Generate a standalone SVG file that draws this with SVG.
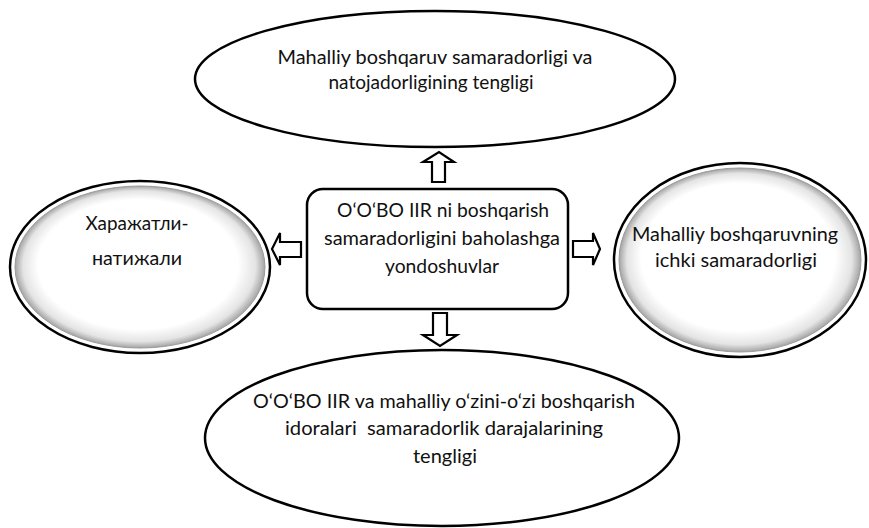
<svg xmlns="http://www.w3.org/2000/svg" width="869" height="528" viewBox="0 0 869 528">
<defs>
<radialGradient id="bevel" cx="0.5" cy="0.5" r="0.5" fx="0.46" fy="0.42">
<stop offset="0" stop-color="#ffffff"/>
<stop offset="0.8" stop-color="#ffffff"/>
<stop offset="0.93" stop-color="#e4e4e4"/>
<stop offset="1" stop-color="#a4a4a4"/>
</radialGradient>
<style>
.plain{fill:#fff;stroke:#000;stroke-width:2.5}
.outer{fill:#fff;stroke:#000;stroke-width:2.5}
.inner{fill:url(#bevel);stroke:#9a9a9a;stroke-width:1}
.box{fill:#fff;stroke:#000;stroke-width:2.5}
.arrow{fill:#fff;stroke:#000;stroke-width:2.2;stroke-linejoin:miter}
text{font-family:Lato,"Liberation Sans",Arial,sans-serif;font-size:19.5px;fill:#111;text-anchor:middle}
</style>
</defs>
<rect width="869" height="528" fill="#fff"/>

<g id="node-top">
<ellipse class="plain" cx="435" cy="79" rx="240" ry="68"/>
<text x="435" y="64" textLength="315" lengthAdjust="spacingAndGlyphs">Mahalliy boshqaruv samaradorligi va</text>
<text x="431" y="89" textLength="205" lengthAdjust="spacingAndGlyphs">natojadorligining tengligi</text>
</g>

<g id="node-left">
<ellipse class="outer" cx="140" cy="267" rx="130" ry="86"/>
<ellipse class="inner" cx="140" cy="267" rx="125" ry="81"/>
<text x="137" y="230" textLength="103" lengthAdjust="spacingAndGlyphs">Харажатли-</text>
<text x="137" y="265" textLength="90" lengthAdjust="spacingAndGlyphs">натижали</text>
</g>

<g id="node-center">
<rect class="box" x="307" y="189" width="261" height="120" rx="16" ry="16"/>
<text x="443" y="216.5" textLength="212" lengthAdjust="spacingAndGlyphs">O‘O‘BO IIR ni boshqarish</text>
<text x="442" y="245" textLength="236" lengthAdjust="spacingAndGlyphs">samaradorligini baholashga</text>
<text x="442" y="273" textLength="114" lengthAdjust="spacingAndGlyphs">yondoshuvlar</text>
</g>

<g id="node-right">
<ellipse class="outer" cx="740" cy="260" rx="126" ry="97"/>
<ellipse class="inner" cx="740" cy="260" rx="121" ry="92"/>
<text x="735" y="241" textLength="206" lengthAdjust="spacingAndGlyphs">Mahalliy boshqaruvning</text>
<text x="736" y="267" textLength="162" lengthAdjust="spacingAndGlyphs">ichki samaradorligi</text>
</g>

<g id="node-bottom">
<ellipse class="plain" cx="442" cy="438" rx="237" ry="88"/>
<text x="444" y="408" textLength="382" lengthAdjust="spacingAndGlyphs">O‘O‘BO IIR va mahalliy o‘zini-o‘zi boshqarish</text>
<text x="444" y="435" textLength="318" lengthAdjust="spacingAndGlyphs">idoralari&#160; samaradorlik darajalarining</text>
<text x="445" y="463" textLength="64" lengthAdjust="spacingAndGlyphs">tengligi</text>
</g>

<g id="connectors">
<polygon class="arrow" points="432,182 432,162 423,162 439,152 454,162 445,162 445,182"/>
<polygon class="arrow" points="301,242 280,242 280,233 272,249 280,265 280,257 301,257"/>
<polygon class="arrow" points="573,241 593,241 593,233 600,249 593,265 593,257 573,257"/>
<polygon class="arrow" points="433,313 447,313 447,335 457,335 440,346 423,335 433,335"/>
</g>
</svg>
